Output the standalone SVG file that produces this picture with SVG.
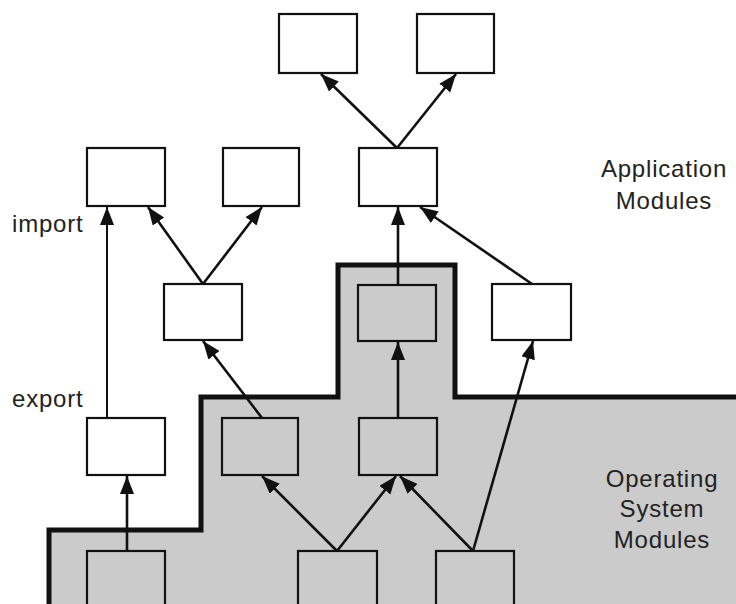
<svg xmlns="http://www.w3.org/2000/svg" width="736" height="604" viewBox="0 0 736 604">
<defs>
<marker id="ah" markerUnits="userSpaceOnUse" markerWidth="20" markerHeight="16" refX="18" refY="7" orient="auto">
<path d="M0,0 L18,7 L0,14 Z" fill="#111"/>
</marker>
<style>
.box{fill:#fff;stroke:#111;stroke-width:2.2}
.sbox{fill:none;stroke:#111;stroke-width:2.2}
.edge{stroke:#111;stroke-width:2.6;fill:none;marker-end:url(#ah)}
.lbl{font-family:"Liberation Sans",Arial,sans-serif;font-size:24px;fill:#222;letter-spacing:0.8px}
</style>
</defs>
<rect width="736" height="604" fill="#fff"/>
<g id="os-region">
<polygon points="49,612 49,530 201,530 201,397 338,397 338,265 455,265 455,397 742,397 742,612" fill="#cbcbcb" stroke="#111" stroke-width="5" stroke-linejoin="miter"/>
</g>
<g id="nodes">
<g id="A"><rect class="box" x="279" y="14" width="78" height="59"/></g>
<g id="B"><rect class="box" x="417" y="14" width="77" height="59"/></g>
<g id="C"><rect class="box" x="87" y="148" width="78" height="58"/></g>
<g id="D"><rect class="box" x="223" y="148" width="76" height="58"/></g>
<g id="E"><rect class="box" x="359" y="148" width="78" height="58"/></g>
<g id="F"><rect class="box" x="164" y="284" width="78" height="56"/></g>
<g id="G"><rect class="sbox" x="358" y="285" width="78" height="56"/></g>
<g id="H"><rect class="box" x="492" y="284" width="79" height="56"/></g>
<g id="I"><rect class="box" x="87" y="418" width="78" height="57"/></g>
<g id="J"><rect class="sbox" x="222" y="418" width="76" height="57"/></g>
<g id="K"><rect class="sbox" x="359" y="418" width="78" height="57"/></g>
<g id="L"><rect class="sbox" x="87" y="551" width="78" height="60"/></g>
<g id="M"><rect class="sbox" x="298" y="551" width="79" height="60"/></g>
<g id="N"><rect class="sbox" x="436" y="551" width="78" height="60"/></g>
</g>
<g id="connectors">
<line class="edge" x1="397" y1="148" x2="321" y2="74"/>
<line class="edge" x1="397" y1="148" x2="456" y2="74"/>
<line class="edge" x1="203" y1="284" x2="148" y2="207"/>
<line class="edge" x1="203" y1="284" x2="262" y2="207"/>
<line class="edge" x1="107" y1="418" x2="107" y2="207" style="stroke-width:2"/>
<line class="edge" x1="398" y1="285" x2="398" y2="207"/>
<line class="edge" x1="532" y1="284" x2="420" y2="207"/>
<line class="edge" x1="398" y1="418" x2="398" y2="342"/>
<line class="edge" x1="473" y1="551" x2="533" y2="341"/>
<line class="edge" x1="262" y1="418" x2="203" y2="341"/>
<line class="edge" x1="337" y1="551" x2="262" y2="476"/>
<line class="edge" x1="337" y1="551" x2="396" y2="476"/>
<line class="edge" x1="473" y1="551" x2="400" y2="476"/>
<line class="edge" x1="127" y1="551" x2="127" y2="476"/>
</g>
<g id="labels">
<text class="lbl" x="12" y="232">import</text>
<text class="lbl" x="12" y="407">export</text>
<text class="lbl" x="664" y="177" text-anchor="middle">Application</text>
<text class="lbl" x="664" y="209" text-anchor="middle">Modules</text>
<text class="lbl" x="662" y="487" text-anchor="middle">Operating</text>
<text class="lbl" x="662" y="517" text-anchor="middle">System</text>
<text class="lbl" x="662" y="548" text-anchor="middle">Modules</text>
</g>
</svg>
